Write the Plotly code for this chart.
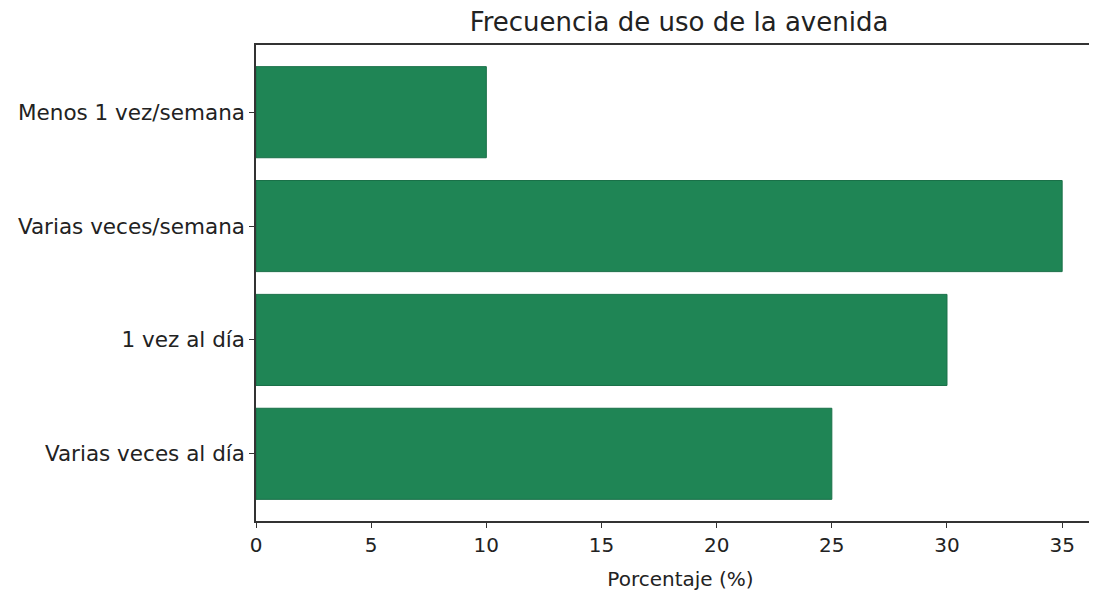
import plotly.graph_objects as go

categories = ["Varias veces al día", "1 vez al día", "Varias veces/semana", "Menos 1 vez/semana"]
values = [25, 30, 35, 10]
x_ticks = [0, 5, 10, 15, 20, 25, 30, 35]

fig = go.Figure(go.Bar(
    x=values, y=categories, orientation="h",
    marker=dict(color="#1f8555", line=dict(color="#1a7048", width=1)),
    width=0.8,
))

font = "DejaVu Sans, sans-serif"
fig.update_layout(
    width=1097, height=596,
    margin=dict(l=248, r=0, t=37, b=83),
    paper_bgcolor="white", plot_bgcolor="white",
    font=dict(family=font, size=20, color="#222"),
    title=dict(text="Frecuencia de uso de la avenida", x=671 / 1097, xanchor="center",
               y=1 - 14 / 596, yanchor="middle", font=dict(size=26, color="#222")),
    showlegend=False,
)
fig.update_xaxes(
    range=[0, 36.86], tickvals=x_ticks, ticks="outside", ticklen=5, tickcolor="#333",
    showline=True, linecolor="#333", linewidth=1.5, mirror=True, showgrid=False, zeroline=False,
    title=dict(text="Porcentaje (%)", font=dict(size=20), standoff=16),
    tickfont=dict(size=20),
)
fig.update_yaxes(
    range=[-0.59, 3.59], categoryorder="array", categoryarray=categories,
    ticks="outside", ticklen=5, tickcolor="#333",
    showline=True, linecolor="#333", linewidth=1.5, showgrid=False, zeroline=False,
    tickfont=dict(size=21.5),
)
fig.write_html("out.html")
